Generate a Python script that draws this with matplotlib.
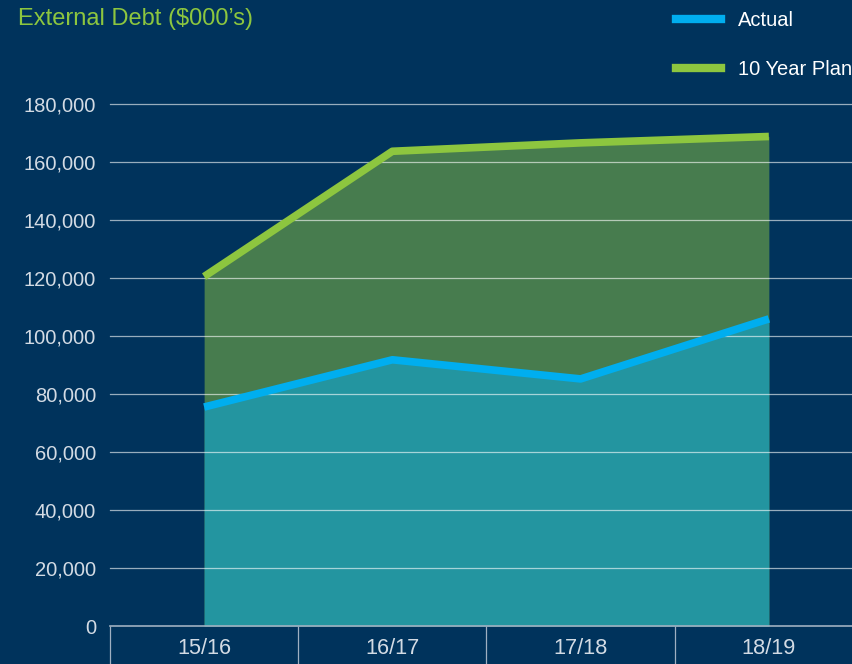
import matplotlib
matplotlib.use('Agg')
import matplotlib.pyplot as plt
from matplotlib.lines import Line2D
from matplotlib.ticker import FuncFormatter

years = ['15/16', '16/17', '17/18', '18/19']
actual = [75500, 91800, 85200, 105900]
plan = [120500, 163700, 166600, 168800]
y_ticks = [0, 20000, 40000, 60000, 80000, 100000, 120000, 140000, 160000, 180000]

navy = '#00335c'
green = '#8dc63f'
blue = '#00aeef'
green_fill = '#477c4e'
teal_fill = '#2395a0'
label_col = '#d3dbe4'
narrow = ['Liberation Sans Narrow', 'Liberation Sans', 'DejaVu Sans']

fig = plt.figure(figsize=(8.53, 6.64), dpi=100)
fig.set(facecolor=navy)
ax = fig.add_axes([110 / 853, 38 / 664, 743 / 853, 522 / 664])
ax.set(facecolor=navy)

x = list(range(len(years)))
ax.fill_between(x, 0, plan, color=green_fill, lw=0, zorder=1)
ax.fill_between(x, 0, actual, color=teal_fill, lw=0, zorder=1)
ax.plot(x, plan, color=green, lw=5.5, solid_capstyle='butt', zorder=3)
ax.plot(x, actual, color=blue, lw=5.5, solid_capstyle='butt', zorder=3)

ax.set_xlim(-0.5, 3.447)
ax.set_ylim(0, 180000)

# grid on top of the fills, semi-transparent
for v in y_ticks[1:]:
    ax.axhline(v, color='white', alpha=0.6, lw=0.9, zorder=2, clip_on=False)
ax.axhline(0, color='#9fb0c2', lw=1.2, zorder=4, clip_on=False)

for s in ax.spines.values():
    s.set_visible(False)

ax.set_yticks(y_ticks)
ax.yaxis.set_major_formatter(FuncFormatter(lambda v, p: '{:,.0f}'.format(v)))
ax.tick_params(axis='y', length=0, pad=10, labelcolor=label_col, labelsize=14.5)
for t in ax.get_yticklabels():
    t.set_family(narrow)

# category separators as major ticks, labels on minor ticks
ax.set_xticks([-0.5, 0.5, 1.5, 2.5])
ax.set_xticklabels([])
ax.tick_params(axis='x', which='major', length=28, width=0.9, color='#9fb0c2', direction='out')
ax.set_xticks(x, minor=True)
ax.set_xticklabels(years, minor=True)
ax.tick_params(axis='x', which='minor', length=0, pad=9, labelcolor=label_col, labelsize=15.7)
for t in ax.get_xticklabels(minor=True):
    t.set_family(narrow)

fig.text(18 / 853, 1 - 19 / 664, 'External Debt ($000\u2019s)', color=green,
         fontsize=17, family=['Liberation Sans', 'DejaVu Sans'], va='center', ha='left')

handles = [Line2D([], [], color=blue, lw=6), Line2D([], [], color=green, lw=6)]
leg = fig.legend(handles, ['Actual', '10 Year Plan'], loc='upper left',
                 bbox_to_anchor=(676 / 853, 1 - 11 / 664), frameon=False,
                 borderpad=0, borderaxespad=0, handlelength=2.25, handletextpad=0.85,
                 labelspacing=1.5, prop={'family': narrow, 'size': 14.5})
for t in leg.get_texts():
    t.set_color('white')

fig.savefig('out.png', dpi=100, facecolor=navy)
